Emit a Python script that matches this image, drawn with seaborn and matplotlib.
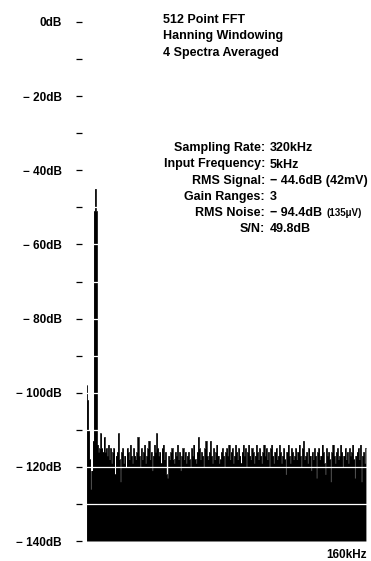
import numpy as np
import pandas as pd
import matplotlib
matplotlib.use("Agg")
import matplotlib.pyplot as plt
import seaborn as sns

# ---- data -------------------------------------------------------------
bin_width_khz = 0.625          # 320 kHz / 512 points
level_db = [
    -98, -102, -110, -118, -126, -121, -113, -51, -45, -51, -114, -116, -115, -111, -115, -116,
    -112, -116, -115, -117, -114, -118, -115, -119, -116, -115, -122, -117, -116, -111, -118, -124,
    -116, -115, -119, -117, -120, -115, -116, -118, -114, -117, -119, -115, -117, -118, -116, -112,
    -117, -120, -115, -118, -116, -114, -119, -117, -115, -113, -118, -116, -121, -117, -114, -116,
    -111, -115, -117, -116, -119, -115, -114, -118, -116, -122, -123, -117, -118, -116, -115, -118,
    -119, -116, -117, -114, -118, -116, -121, -117, -115, -118, -116, -119, -117, -116, -118, -120,
    -115, -117, -114, -118, -119, -116, -112, -115, -118, -116, -117, -120, -115, -113, -117, -118,
    -116, -113, -117, -119, -115, -118, -116, -114, -117, -119, -118, -116, -115, -117, -120, -116,
    -115, -117, -114, -118, -116, -115, -119, -117, -114, -116, -118, -115, -117, -119, -116, -114,
    -117, -115, -120, -116, -114, -117, -118, -115, -116, -119, -117, -114, -116, -118, -115, -117,
    -119, -116, -114, -117, -115, -118, -116, -120, -115, -114, -117, -119, -116, -115, -118, -117,
    -114, -116, -119, -117, -115, -118, -122, -116, -114, -117, -119, -115, -116, -118, -117, -115,
    -118, -116, -114, -117, -120, -115, -113, -118, -117, -116, -119, -115, -117, -121, -116, -118,
    -115, -117, -123, -116, -115, -118, -117, -114, -116, -119, -122, -115, -117, -116, -118, -124,
    -116, -114, -117, -119, -116, -115, -118, -117, -114, -116, -120, -117, -115, -118, -116, -119,
    -115, -117, -116, -114, -118, -123, -117, -116, -115, -118, -114, -124, -117, -116, -119, -115,
]
freq_khz = np.arange(len(level_db)) * bin_width_khz

major_ticks = [0, -20, -40, -60, -80, -100, -120, -140]
major_labels = ["0dB", "\u2212 20dB", "\u2212 40dB", "\u2212 60dB", "\u2212 80dB",
                "\u2212 100dB", "\u2212 120dB", "\u2212 140dB"]
minor_ticks = [-10, -30, -50, -70, -90, -110, -130]
grid_levels = [-10, -20, -30, -40, -50, -60, -70, -80, -90, -100, -110, -120, -130]

header_lines = ["512 Point FFT", "Hanning Windowing", "4 Spectra Averaged"]
stat_names = ["Sampling Rate:", "Input Frequency:", "RMS Signal:", "Gain Ranges:",
              "RMS Noise:", "S/N:"]
stat_values = ["320kHz", "5kHz", "\u2212 44.6dB (42mV)", "3", "\u2212 94.4dB", "49.8dB"]

df = pd.DataFrame({"freq": freq_khz, "level": level_db})

# ---- style ------------------------------------------------------------
sns.set_theme(style="white")
plt.rcParams["font.family"] = ["Liberation Sans", "DejaVu Sans"]
plt.rcParams["font.weight"] = "bold"
plt.rcParams["text.color"] = "black"
plt.rcParams["ytick.color"] = "black"
plt.rcParams["xtick.color"] = "black"

W, H = 371, 561
fig = plt.figure(figsize=(W / 100, H / 100), dpi=100)
ax = fig.add_axes([86 / W, 1 - 541 / H, (367 - 86) / W, (541 - 22) / H])

ax.fill_between(df["freq"], -140, df["level"], step="mid", color="black", lw=0, zorder=2)
sns.lineplot(data=df, x="freq", y="level", ax=ax, color="black", lw=0.5,
             drawstyle="steps-mid", zorder=3)

for g in grid_levels:
    ax.axhline(g, color="white", lw=0.9, zorder=4)

ax.set_xlim(-bin_width_khz / 2, 160)
ax.set_ylim(-140, 0)
for s in ax.spines.values():
    s.set_visible(False)
ax.spines["left"].set_position(("outward", 3))

ax.set_yticks(major_ticks)
ax.set_yticklabels(major_labels)
ax.set_yticks(minor_ticks, minor=True)
ax.tick_params(axis="y", which="both", direction="out", length=4.3, width=0.9,
               color="black", left=True, pad=10, labelsize=8.5, labelcolor="black")
ax.set_xticks([160])
ax.set_xticklabels(["160kHz"])
ax.tick_params(axis="x", length=0, pad=6, labelsize=8.5, labelcolor="black")
for lbl in ax.get_xticklabels():
    lbl.set_ha("right")
ax.set_xlabel("")
ax.set_ylabel("")

# ---- annotation text --------------------------------------------------
for i, line in enumerate(header_lines):
    fig.text(163 / W, 1 - (20 + 16.5 * i) / H, line, ha="left", va="center",
             fontsize=9, fontweight="bold", color="black")

row_y = [148, 164.5, 181, 197, 213, 229]
for name, val, yy in zip(stat_names, stat_values, row_y):
    fig.text(265 / W, 1 - yy / H, name, ha="right", va="center", fontsize=9,
             fontweight="bold", color="black")
    t = fig.text(270 / W, 1 - yy / H, val, ha="left", va="center", fontsize=9,
                 fontweight="bold", color="black")
    if name == "RMS Noise:":
        ax.annotate("(135\u03bcV)", xy=(1, 0.5), xycoords=t, xytext=(3, 0),
                    textcoords="offset points", ha="left", va="center",
                    fontsize=7, fontweight="bold", color="black")

fig.savefig("out.png", dpi=100)
